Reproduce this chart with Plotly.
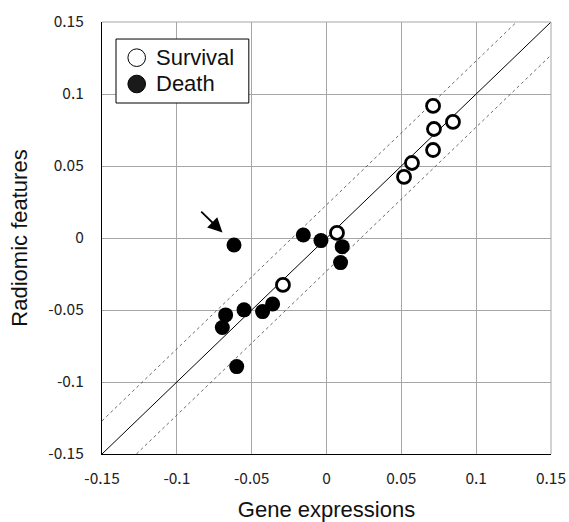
import plotly.graph_objects as go

# Data
survival_x = [0.0712, 0.0845, 0.0718, 0.0712, 0.0571, 0.0518, 0.0070, -0.0291]
survival_y = [0.0917, 0.0806, 0.0757, 0.0611, 0.0521, 0.0424, 0.0035, -0.0326]
death_x = [-0.0618, -0.0155, -0.0037, 0.0105, 0.0094, -0.0360, -0.0427, -0.0551, -0.0674, -0.0696, -0.0600]
death_y = [-0.0049, 0.0021, -0.0018, -0.0060, -0.0171, -0.0458, -0.0511, -0.0499, -0.0534, -0.0622, -0.0893]
axis_ticks = [-0.15, -0.1, -0.05, 0, 0.05, 0.1, 0.15]
tick_text = ["-0.15", "-0.1", "-0.05", "0", "0.05", "0.1", "0.15"]
legend_labels = ["Survival", "Death"]
band = 0.023
lim = [-0.15, 0.15]

fig = go.Figure()

# identity line and band
fig.add_trace(go.Scatter(x=lim, y=lim, mode="lines", line=dict(color="black", width=1),
                         showlegend=False, hoverinfo="skip"))
fig.add_trace(go.Scatter(x=[lim[0], lim[1] - band], y=[lim[0] + band, lim[1]], mode="lines",
                         line=dict(color="#444", width=0.8, dash="dot"), showlegend=False, hoverinfo="skip"))
fig.add_trace(go.Scatter(x=[lim[0] + band, lim[1]], y=[lim[0], lim[1] - band], mode="lines",
                         line=dict(color="#444", width=0.8, dash="dot"), showlegend=False, hoverinfo="skip"))

fig.add_trace(go.Scatter(x=survival_x, y=survival_y, mode="markers", name="Survival", showlegend=False,
                         marker=dict(symbol="circle", size=13, color="white",
                                     line=dict(color="black", width=2.8))))
fig.add_trace(go.Scatter(x=death_x, y=death_y, mode="markers", name="Death", showlegend=False,
                         marker=dict(symbol="circle", size=15, color="black",
                                     line=dict(color="black", width=0))))

# legend box (drawn in paper coordinates)
fig.add_shape(type="rect", xref="paper", yref="paper", x0=0.0312, x1=0.327, y0=0.8125, y1=0.9606,
              line=dict(color="black", width=1), fillcolor="white", layer="above")
legend_rows = [0.9174, 0.8565]
legend_fill = ["white", "#1a1a1a"]
for lab, yc, fc in zip(legend_labels, legend_rows, legend_fill):
    fig.add_shape(type="circle", xref="paper", yref="paper",
                  x0=0.0773 - 0.0196, x1=0.0773 + 0.0196, y0=yc - 0.0204, y1=yc + 0.0204,
                  line=dict(color="black", width=1), fillcolor=fc, layer="above")
    fig.add_annotation(x=0.116, y=yc, xref="paper", yref="paper", text=lab, showarrow=False,
                       xanchor="left", yanchor="middle",
                       font=dict(family="Liberation Sans", size=22, color="#111"))

# arrow pointing at the outlier
fig.add_annotation(x=-0.0695, y=0.0039, ax=-0.0847, ay=0.0194, xref="x", yref="y",
                   axref="x", ayref="y", text="", showarrow=True,
                   arrowhead=2, arrowsize=1.6, arrowwidth=1.8, arrowcolor="black")

# top/right frame lines (grey)
fig.add_shape(type="line", xref="paper", yref="paper", x0=0, x1=1, y0=1, y1=1,
              line=dict(color="#a6a6a6", width=1))
fig.add_shape(type="line", xref="paper", yref="paper", x0=1, x1=1, y0=0, y1=1,
              line=dict(color="#a6a6a6", width=1))

tick_font = dict(family="Noto Sans CJK JP", size=15.5, color="#222")
fig.update_xaxes(range=lim, tickvals=axis_ticks, ticktext=tick_text, showgrid=True,
                 gridcolor="#a6a6a6", gridwidth=1, zeroline=False, showline=True,
                 linecolor="black", linewidth=1.2, ticks="", tickfont=tick_font,
                 ticklabelstandoff=10, automargin=False,
                 title=dict(text="Gene expressions", font=dict(family="Liberation Sans", size=22, color="#111"),
                            standoff=24))
fig.update_yaxes(range=lim, tickvals=axis_ticks, ticktext=tick_text, showgrid=True,
                 gridcolor="#a6a6a6", gridwidth=1, zeroline=False, showline=True,
                 linecolor="black", linewidth=1.2, ticks="", tickfont=tick_font,
                 ticklabelstandoff=14, automargin=False,
                 title=dict(text="Radiomic features", font=dict(family="Liberation Sans", size=22, color="#111"),
                            standoff=14))

fig.update_layout(
    width=569, height=522,
    margin=dict(l=102, r=18, t=22, b=68),
    plot_bgcolor="white", paper_bgcolor="white",
    showlegend=False,
)

fig.write_html("out.html", config={"displayModeBar": False},
               post_script="document.body.style.margin='0';document.body.style.overflow='hidden';")
